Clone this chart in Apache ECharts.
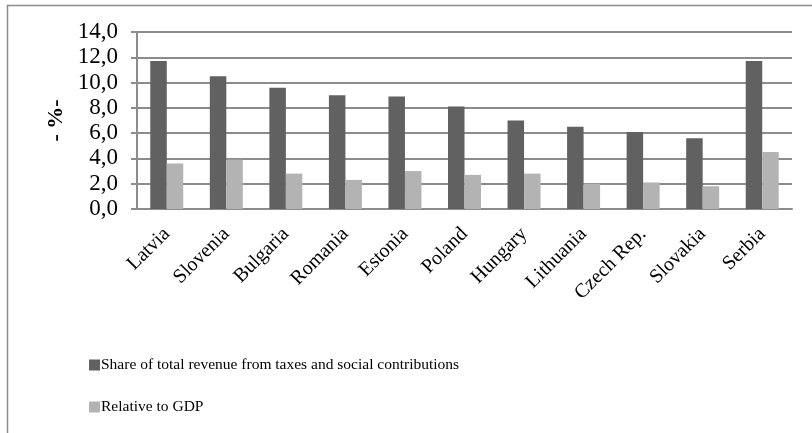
<!DOCTYPE html>
<html>
<head>
<meta charset="utf-8">
<script src="https://cdn.jsdelivr.net/npm/echarts@6/dist/echarts.min.js"></script>
<style>
html,body{margin:0;padding:0;background:#fff;}
#chart{width:812px;height:433px;}
</style>
</head>
<body>
<div id="chart"></div>
<script>
const categories = ['Latvia','Slovenia','Bulgaria','Romania','Estonia','Poland','Hungary','Lithuania','Czech Rep.','Slovakia','Serbia'];
const shareOfRevenue = [11.7,10.5,9.6,9.0,8.9,8.1,7.0,6.5,6.1,5.6,11.7];
const relativeToGDP = [3.6,3.9,2.8,2.3,3.0,2.7,2.8,2.0,2.1,1.8,4.5];
const seriesNames = ['Share of total revenue from taxes and social contributions','Relative to GDP'];
const yTicks = {min:0, max:14, interval:2};

const font = '"Liberation Serif","Times New Roman",serif';
const grid = '#8c8c8c';
const chart = echarts.init(document.getElementById('chart'), null, {renderer:'canvas'});
chart.setOption({
  animation:false,
  backgroundColor:'#fff',
  graphic:[{type:'rect', left:5, top:3, shape:{x:0,y:0,width:900,height:500},
    style:{fill:'none', stroke:grid, lineWidth:1.5}, silent:true, z:-10}],
  grid:{left:137, right:20, top:32, bottom:224},
  legend:{
    orient:'vertical', left:84, top:352,
    itemWidth:11, itemHeight:11, itemGap:26,
    icon:'rect',
    textStyle:{fontFamily:font, fontSize:15.5, color:'#000', padding:[0,0,0,-4]},
    data:seriesNames
  },
  xAxis:{
    type:'category', data:categories,
    axisLine:{show:true, lineStyle:{color:grid, width:2}},
    axisTick:{show:false},
    axisLabel:{rotate:45, interval:0, margin:22, fontFamily:font, fontSize:20, color:'#000'}
  },
  yAxis:{
    type:'value', min:yTicks.min, max:yTicks.max, interval:yTicks.interval,
    name:'- %-', nameLocation:'middle', nameGap:70, nameRotate:90,
    nameTextStyle:{fontFamily:font, fontSize:22, fontWeight:'bold', color:'#000'},
    axisLine:{show:true, lineStyle:{color:grid, width:2}},
    axisTick:{show:true, length:6, lineStyle:{color:grid, width:2}},
    axisLabel:{fontFamily:font, fontSize:23, color:'#000', margin:19,
      formatter:v=>v.toFixed(1).replace('.',',')},
    splitLine:{show:true, lineStyle:{color:grid, width:2}}
  },
  series:[
    {name:seriesNames[0], type:'bar', data:shareOfRevenue, barWidth:16.5, barGap:'0%',
     itemStyle:{color:'#616161'}},
    {name:seriesNames[1], type:'bar', data:relativeToGDP, barWidth:16.5, barGap:'0%',
     itemStyle:{color:'#b3b3b3'}}
  ]
});
</script>
</body>
</html>
